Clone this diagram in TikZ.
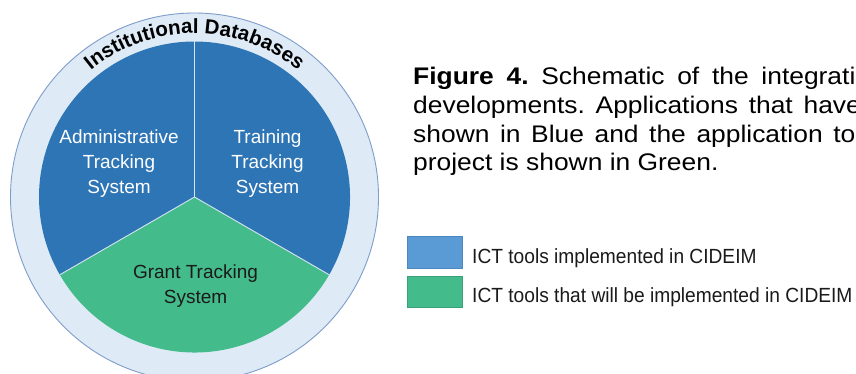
\documentclass[tikz,border=0pt]{standalone}
\usepackage{fontspec}
\setmainfont{Liberation Sans}
\usetikzlibrary{decorations.text}
\definecolor{blueS}{HTML}{2E75B6}
\definecolor{greenS}{HTML}{44BB8B}
\definecolor{ringfill}{HTML}{DEEBF7}
\definecolor{ringdraw}{HTML}{7F9DC9}
\definecolor{legblue}{HTML}{5B9BD5}
\definecolor{legblueD}{HTML}{4C87BF}
\definecolor{leggreenD}{HTML}{3AA07A}
\definecolor{divider}{HTML}{D6E3F1}
\definecolor{darktext}{HTML}{1A1A1A}
\frenchspacing
\newcommand{\capline}[2]{\scalebox{1.1}[1]{\makebox[#1][s]{#2}}}
\begin{document}
\begin{tikzpicture}[x=1pt,y=1pt,
  lbl/.style={font=\fontsize{19}{23}\selectfont, text=white, anchor=base, inner sep=0pt},
  glbl/.style={lbl, text=darktext},
  captxt/.style={font=\fontsize{24}{28}\selectfont, anchor=base west, inner sep=0pt, text=black},
  legtxt/.style={font=\fontsize{20.5}{23}\selectfont, anchor=base west, inner sep=0pt, text=darktext},
  divline/.style={draw=divider, line width=0.9pt}]
\useasboundingbox (0,0) rectangle (856,373);
\clip (0,0) rectangle (856,373);
\fill[white] (0,0) rectangle (856,373);
\coordinate (C) at (194.5,176);
% ring
\filldraw[fill=ringfill, draw=ringdraw, line width=0.9pt] (C) circle[radius=184];
% sectors
\fill[blueS] (C) -- ([shift={(90:155.5)}]C) arc[start angle=90, end angle=210, radius=155.5] -- cycle;
\fill[blueS] (C) -- ([shift={(-30:155.5)}]C) arc[start angle=-30, end angle=90, radius=155.5] -- cycle;
\fill[greenS] (C) -- ([shift={(210:155.5)}]C) arc[start angle=210, end angle=330, radius=155.5] -- cycle;
\coordinate (d1) at ([shift={(90:155.5)}]C);
\coordinate (d2) at ([shift={(210:155.5)}]C);
\coordinate (d3) at ([shift={(330:155.5)}]C);
\draw[divline] (C) -- (d1);
\draw[divline] (C) -- (d2);
\draw[divline] (C) -- (d3);
% ring text
\path[decorate, decoration={text along path, text align=center,
  text={|\fontsize{20.5}{21}\selectfont\bfseries|Institutional Databases}}]
  ([shift={(140:163.5)}]C) arc[start angle=140, end angle=40, radius=163.5];
% sector labels
\node[lbl] (a1) at (119,230) {Administrative};
\node[lbl] (a2) at (119,205) {Tracking};
\node[lbl] (a3) at (119,180) {System};
\node[lbl] (t1) at (267.5,230) {Training};
\node[lbl] (t2) at (267.5,205) {Tracking};
\node[lbl] (t3) at (267.5,180) {System};
\node[glbl] (g1) at (195.5,95) {Grant Tracking};
\node[glbl] (g2) at (195.5,70) {System};
% caption
\node[captxt] (cap1) at (413,288) {\capline{402pt}{\textbf{Figure 4.} Schematic of the integrati}};
\node[captxt] (cap2) at (413,260) {\capline{407pt}{developments. Applications that have}};
\node[captxt] (cap3) at (413,231) {\capline{402pt}{shown in Blue and the application to}};
\node[captxt] (cap4) at (413,203) {\scalebox{1.1}[1]{project is shown in Green.}};
% legend
\node[draw=legblueD, fill=legblue, line width=0.8pt, minimum width=55pt, minimum height=32pt, inner sep=0pt, anchor=south west] (lb) at (407,104) {};
\node[draw=leggreenD, fill=greenS, line width=0.8pt, minimum width=55pt, minimum height=31pt, inner sep=0pt, anchor=south west] (lg) at (407,65) {};
\node[legtxt] (lt1) at (472,110) {\scalebox{0.935}[1]{ICT tools implemented in CIDEIM}};
\node[legtxt] (lt2) at (472,71) {\scalebox{0.935}[1]{ICT tools that will be implemented in CIDEIM}};
\end{tikzpicture}
\end{document}
